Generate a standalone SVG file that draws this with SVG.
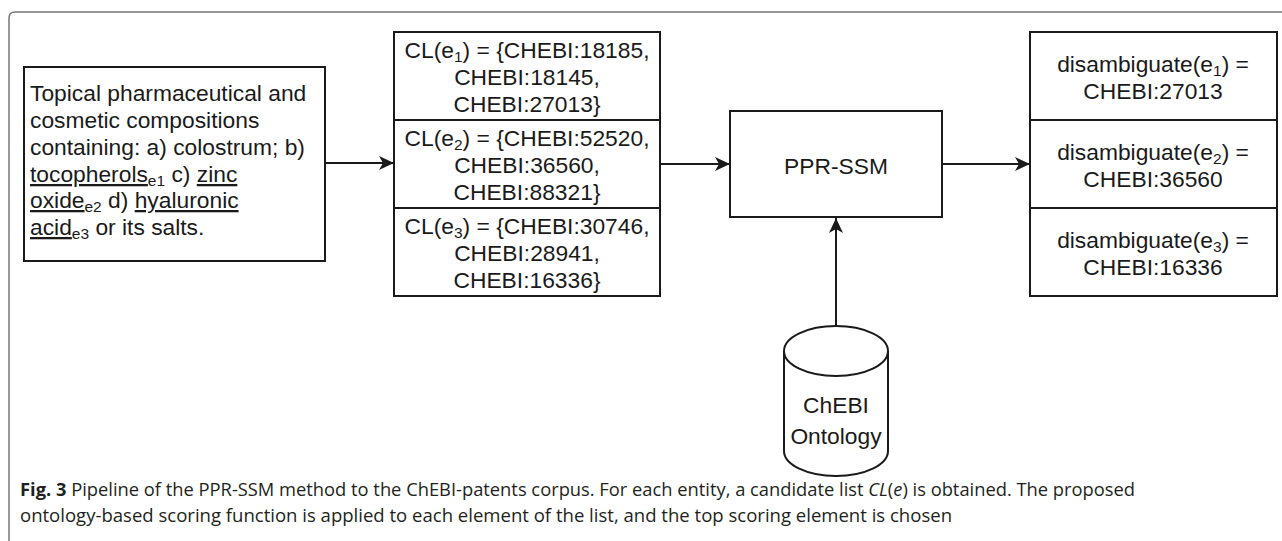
<svg xmlns="http://www.w3.org/2000/svg" width="1282" height="541" viewBox="0 0 1282 541">
<style>
.box{fill:#fff;stroke:#1a1a1a;stroke-width:2}
.t{font-family:"Liberation Sans",Arial,sans-serif;font-size:22.8px;fill:#1a1a1a}
.c{text-anchor:middle}
.sub{font-size:15.5px}
.u{text-decoration:underline}
.conn{stroke:#1a1a1a;stroke-width:2;fill:none}
.cap{font-family:"Open Sans","Noto Sans",sans-serif;font-size:17.5px;fill:#231f20}
</style>
<defs>
<marker id="arr" markerUnits="userSpaceOnUse" markerWidth="16" markerHeight="14" refX="15" refY="7" orient="auto">
<path d="M0,0 L15,7 L0,14 L4,7 Z" fill="#1a1a1a"/>
</marker>
</defs>
<path d="M9,545 L9,18 Q9,12 15,12 L1290,12" fill="none" stroke="#777" stroke-width="1.5"/>
<g id="input">
<rect class="box" x="24" y="67" width="301" height="194"/>
<text class="t" x="30" y="101">Topical pharmaceutical and</text>
<text class="t" x="30" y="128">cosmetic compositions</text>
<text class="t" x="30" y="155">containing: a) colostrum; b)</text>
<text class="t" x="30" y="182"><tspan class="u">tocopherols</tspan><tspan class="sub" dy="4">e1</tspan><tspan dy="-4"> c) </tspan><tspan class="u">zinc</tspan></text>
<text class="t" x="30" y="208"><tspan class="u">oxide</tspan><tspan class="sub" dy="4">e2</tspan><tspan dy="-4"> d) </tspan><tspan class="u">hyaluronic</tspan></text>
<text class="t" x="30" y="235"><tspan class="u">acid</tspan><tspan class="sub" dy="4">e3</tspan><tspan dy="-4"> or its salts.</tspan></text>
</g>
<g id="cl1">
<rect class="box" x="394" y="32" width="266" height="88"/>
<text class="t c" x="527" y="58">CL(e<tspan class="sub" dy="4">1</tspan><tspan dy="-4">) = {CHEBI:18185,</tspan></text>
<text class="t c" x="527" y="85">CHEBI:18145,</text>
<text class="t c" x="527" y="112">CHEBI:27013}</text>
</g>
<g id="cl2">
<rect class="box" x="394" y="120" width="266" height="88"/>
<text class="t c" x="527" y="146">CL(e<tspan class="sub" dy="4">2</tspan><tspan dy="-4">) = {CHEBI:52520,</tspan></text>
<text class="t c" x="527" y="173">CHEBI:36560,</text>
<text class="t c" x="527" y="200">CHEBI:88321}</text>
</g>
<g id="cl3">
<rect class="box" x="394" y="208" width="266" height="88"/>
<text class="t c" x="527" y="234">CL(e<tspan class="sub" dy="4">3</tspan><tspan dy="-4">) = {CHEBI:30746,</tspan></text>
<text class="t c" x="527" y="261">CHEBI:28941,</text>
<text class="t c" x="527" y="288">CHEBI:16336}</text>
</g>
<g id="pprssm">
<rect class="box" x="730" y="111" width="212" height="106"/>
<text class="t c" x="836" y="174">PPR-SSM</text>
</g>
<g id="d1">
<rect class="box" x="1030" y="32" width="247" height="88"/>
<text class="t c" x="1153" y="72">disambiguate(e<tspan class="sub" dy="4">1</tspan><tspan dy="-4">) =</tspan></text>
<text class="t c" x="1153" y="99">CHEBI:27013</text>
</g>
<g id="d2">
<rect class="box" x="1030" y="120" width="247" height="88"/>
<text class="t c" x="1153" y="160">disambiguate(e<tspan class="sub" dy="4">2</tspan><tspan dy="-4">) =</tspan></text>
<text class="t c" x="1153" y="187">CHEBI:36560</text>
</g>
<g id="d3">
<rect class="box" x="1030" y="208" width="247" height="88"/>
<text class="t c" x="1153" y="248">disambiguate(e<tspan class="sub" dy="4">3</tspan><tspan dy="-4">) =</tspan></text>
<text class="t c" x="1153" y="275">CHEBI:16336</text>
</g>
<g id="chebi">
<path class="box" d="M784,351 L784,451 A52,25 0 0 0 888,451 L888,351 A52,25 0 0 0 784,351 A52,25 0 0 0 888,351"/>
<text class="t c" x="836" y="413">ChEBI</text>
<text class="t c" x="836" y="444">Ontology</text>
</g>
<g id="connectors">
<line class="conn" x1="325" y1="163" x2="394" y2="163" marker-end="url(#arr)"/>
<line class="conn" x1="660" y1="164" x2="730" y2="164" marker-end="url(#arr)"/>
<line class="conn" x1="942" y1="164" x2="1030" y2="164" marker-end="url(#arr)"/>
<line class="conn" x1="836" y1="326" x2="836" y2="218" marker-end="url(#arr)"/>
</g>
<g id="caption">
<text class="cap" x="20" y="496" textLength="1115" lengthAdjust="spacingAndGlyphs"><tspan font-weight="bold">Fig. 3</tspan> Pipeline of the PPR-SSM method to the ChEBI-patents corpus. For each entity, a candidate list <tspan font-style="italic">CL</tspan>(<tspan font-style="italic">e</tspan>) is obtained. The proposed</text>
<text class="cap" x="20" y="522" textLength="932" lengthAdjust="spacingAndGlyphs">ontology-based scoring function is applied to each element of the list, and the top scoring element is chosen</text>
</g>
</svg>
